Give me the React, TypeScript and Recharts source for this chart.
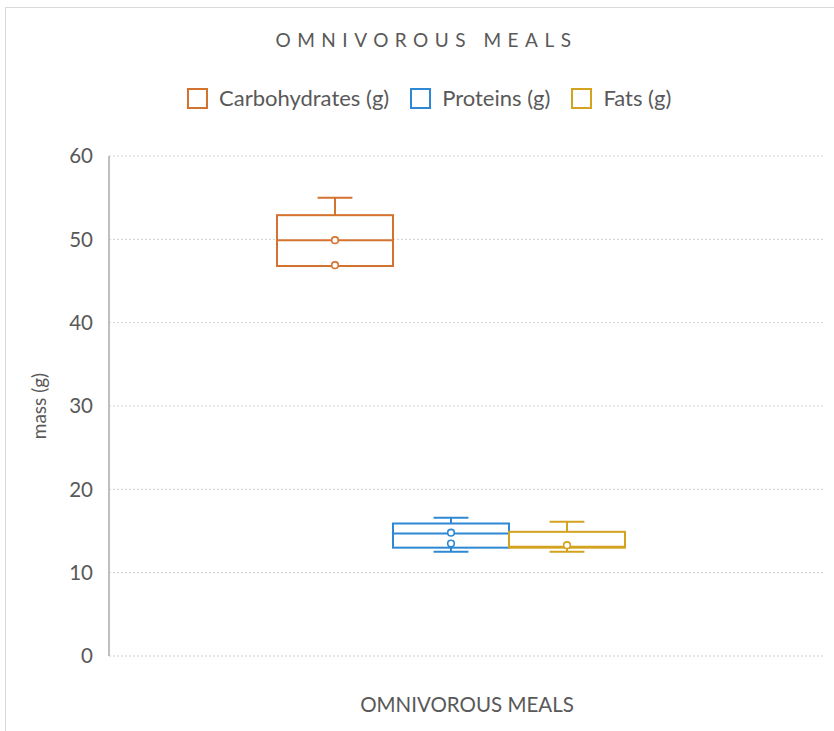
import { Bar, CartesianGrid, ComposedChart, XAxis, YAxis } from "recharts";

const categories = ["OMNIVOROUS MEALS"];
const seriesNames = ["Carbohydrates (g)", "Proteins (g)", "Fats (g)"];
const seriesColors = ["#D4722F", "#2E88D3", "#D3A21F"];
const mins = [46.8, 12.5, 12.5];
const q1s = [46.8, 13.0, 13.0];
const medians = [49.9, 14.7, 13.1];
const q3s = [52.9, 15.9, 14.9];
const maxs = [55.0, 16.6, 16.1];
const innerPoints = [[46.9, 49.9], [14.8, 13.5], [13.3]];
const yTicks = [0, 10, 20, 30, 40, 50, 60];

const FONT = "Lato, 'Open Sans', sans-serif";
const TEXT = "#595959";

const data = categories.map((name) => {
  const row: Record<string, unknown> = { name };
  seriesNames.forEach((_, i) => {
    row[`s${i}`] = [q1s[i], q3s[i]];
  });
  return row;
});

// box drawn from the bar rect; whiskers/points use the same px-per-unit
function makeBoxShape(i: number) {
  return (props: any) => {
    const { x, y, width, height } = props;
    const top = Math.min(y, y + height);
    const h = Math.abs(height);
    const unit = h / (q3s[i] - q1s[i]);
    const toY = (v: number) => top + (q3s[i] - v) * unit;
    const cx = x + width / 2;
    const cap = width * 0.3;
    const color = seriesColors[i];
    return (
      <g>
        <line x1={cx} x2={cx} y1={toY(q3s[i])} y2={toY(maxs[i])} stroke={color} strokeWidth={2} />
        <line x1={cx - cap / 2} x2={cx + cap / 2} y1={toY(maxs[i])} y2={toY(maxs[i])} stroke={color} strokeWidth={2} />
        <line x1={cx} x2={cx} y1={toY(q1s[i])} y2={toY(mins[i])} stroke={color} strokeWidth={2} />
        {mins[i] < q1s[i] && (
          <line x1={cx - cap / 2} x2={cx + cap / 2} y1={toY(mins[i])} y2={toY(mins[i])} stroke={color} strokeWidth={2} />
        )}
        <rect x={x} y={top} width={width} height={h} fill="#fff" stroke={color} strokeWidth={2} />
        <line x1={x} x2={x + width} y1={toY(medians[i])} y2={toY(medians[i])} stroke={color} strokeWidth={2} />
        {innerPoints[i].map((v, k) => (
          <circle key={k} cx={cx} cy={toY(v)} r={3.3} fill="#fff" stroke={color} strokeWidth={1.6} />
        ))}
      </g>
    );
  };
}

export default function App() {
  return (
    <div style={{ position: "absolute", left: 0, top: 0, width: 834, height: 731, background: "#fff", fontFamily: FONT, overflow: "hidden" }}>
      <div style={{ position: "absolute", left: 5, top: 7, width: 900, height: 800, border: "1px solid #d9d9d9" }} />
      <div
        style={{
          position: "absolute",
          top: 27,
          left: 0,
          width: 853,
          textAlign: "center",
          fontSize: 19,
          letterSpacing: 6.5,
          color: TEXT,
          lineHeight: "26px",
        }}
      >
        OMNIVOROUS MEALS
      </div>
      <div style={{ position: "absolute", top: 86, left: 187, display: "flex", alignItems: "center", fontSize: 22, color: TEXT }}>
        {seriesNames.map((n, i) => (
          <div key={n} style={{ display: "flex", alignItems: "center", marginRight: 21 }}>
            <span style={{ width: 17, height: 17, border: `2px solid ${seriesColors[i]}`, marginRight: 11, display: "inline-block" }} />
            <span style={{ lineHeight: "24px" }}>{n}</span>
          </div>
        ))}
      </div>
      <div style={{ position: "absolute", left: 0, top: 0 }}>
        <ComposedChart
          width={834}
          height={731}
          data={data}
          barGap={0}
          margin={{ top: 156, right: 9, bottom: 45, left: 20 }}
        >
          <CartesianGrid vertical={false} stroke="#cfcfcf" strokeDasharray="2 2" />
          <XAxis
            dataKey="name"
            tick={false}
            tickLine={false}
            axisLine={false}
            height={30}
            padding={{ left: 0, right: 32 }}
            label={{ value: categories[0], position: "bottom", offset: 11, fill: TEXT, fontSize: 20.5, fontFamily: FONT }}
          />
          <YAxis
            domain={[0, 60]}
            ticks={yTicks}
            width={89}
            tickLine={false}
            tickSize={6}
            tickMargin={10}
            axisLine={{ stroke: "#bfbfbf", strokeWidth: 2 }}
            tick={{ fill: TEXT, fontSize: 20.5, fontFamily: FONT }}
            label={{
              value: "mass (g)",
              angle: -90,
              position: "insideLeft",
              offset: 19,
              fill: TEXT,
              fontSize: 19,
              fontFamily: FONT,
              style: { textAnchor: "middle" },
            }}
          />
          {seriesNames.map((n, i) => (
            <Bar
              key={n}
              dataKey={`s${i}`}
              name={n}
              barSize={116}
              fill={seriesColors[i]}
              shape={makeBoxShape(i)}
              isAnimationActive={false}
            />
          ))}
        </ComposedChart>
      </div>
    </div>
  );
}
